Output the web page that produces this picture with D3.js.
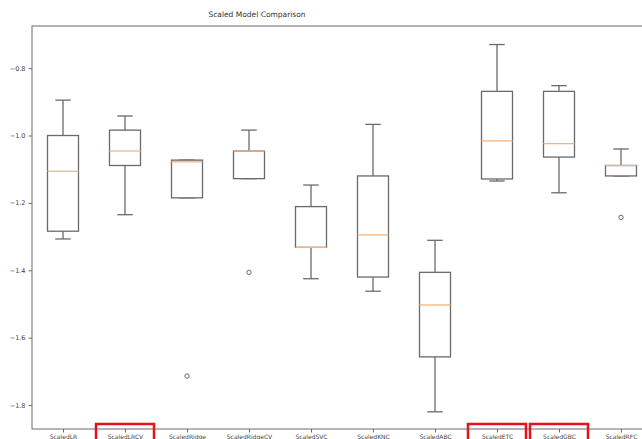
<!DOCTYPE html>
<html>
<head>
<meta charset="utf-8">
<script src="https://cdn.jsdelivr.net/npm/d3@7"></script>
<style>
  body { margin: 0; background: #fff; }
  svg { display: block; font-family: "DejaVu Sans", sans-serif; }
</style>
</head>
<body>
<div id="wrapper"></div>
<script>
// box stats (whisker low, q1, median, q3, whisker high)
const models = ["ScaledLR", "ScaledLRCV", "ScaledRidge", "ScaledRidgeCV", "ScaledSVC",
                "ScaledKNC", "ScaledABC", "ScaledETC", "ScaledGBC", "ScaledRFC"];
const whiskLow  = [-1.307, -1.235, -1.185, -1.128, -1.425, -1.462, -1.820, -1.135, -1.170, -1.120];
const q1        = [-1.284, -1.089, -1.185, -1.128, -1.332, -1.420, -1.657, -1.129, -1.064, -1.120];
const medians   = [-1.106, -1.046, -1.078, -1.046, -1.332, -1.295, -1.503, -1.016, -1.024, -1.089];
const q3        = [-1.000, -0.984, -1.073, -1.046, -1.211, -1.120, -1.406, -0.869, -0.869, -1.089];
const whiskHigh = [-0.895, -0.942, -1.073, -0.984, -1.147, -0.967, -1.311, -0.730, -0.852, -1.040];
const fliers    = [[], [], [-1.714], [-1.406], [], [], [], [], [], [-1.243]];
const yTicks = [-0.8, -1.0, -1.2, -1.4, -1.6, -1.8];
const highlighted = ["ScaledLRCV", "ScaledETC", "ScaledGBC"];

const width = 642, height = 439;
const axLeft = 32, axRight = 652, axTop = 26, axBottom = 429;

const svg = d3.select("#wrapper").append("svg")
  .attr("width", width).attr("height", height);

const x = d3.scaleLinear().domain([0.5, models.length + 0.5]).range([axLeft, axRight]);
const y = d3.scaleLinear().domain([-1.871, -0.675]).range([axBottom, axTop]);
const boxW = x(1.25) - x(1);   // half width of a box
const capW = x(1.125) - x(1);

const lineCol = "#6a6a6a";

// title
svg.append("text")
  .attr("x", 257).attr("y", 17)
  .attr("text-anchor", "middle")
  .attr("font-size", "7.5px")
  .attr("fill", "#333")
  .text("Scaled Model Comparison");

// y axis ticks
const yAxis = svg.append("g")
  .attr("transform", "translate(" + axLeft + ",0)")
  .call(d3.axisLeft(y).tickValues(yTicks).tickSize(3.5).tickPadding(3)
        .tickFormat(d => d3.format(".1f")(d).replace("-", "\u2212")));
yAxis.select(".domain").remove();
yAxis.selectAll("line").attr("stroke", lineCol);
yAxis.selectAll("text").attr("font-size", "6.5px").attr("fill", "#444")
  .attr("font-family", "DejaVu Sans, sans-serif");

// x axis ticks
const xAxis = svg.append("g")
  .attr("transform", "translate(0," + axBottom + ")")
  .call(d3.axisBottom(x).tickValues(d3.range(1, models.length + 1)).tickSize(3.5).tickPadding(2)
        .tickFormat(d => models[d - 1]));
xAxis.select(".domain").remove();
xAxis.selectAll("line").attr("stroke", lineCol);
xAxis.selectAll("text").attr("font-size", "6px").attr("fill", "#444")
  .attr("font-family", "DejaVu Sans, sans-serif");

// frame
svg.append("rect")
  .attr("x", axLeft).attr("y", axTop)
  .attr("width", axRight - axLeft).attr("height", axBottom - axTop)
  .attr("fill", "none").attr("stroke", lineCol).attr("stroke-width", 1);

// boxes
const boxes = svg.selectAll(".box")
  .data(models.map((m, i) => ({ name: m, pos: i + 1, lo: whiskLow[i], q1: q1[i],
                               med: medians[i], q3: q3[i], hi: whiskHigh[i], fl: fliers[i] })))
  .enter().append("g").attr("class", "box");

// whiskers
boxes.append("line")
  .attr("x1", d => x(d.pos)).attr("x2", d => x(d.pos))
  .attr("y1", d => y(d.q1)).attr("y2", d => y(d.lo))
  .attr("stroke", lineCol).attr("stroke-width", 1.3);
boxes.append("line")
  .attr("x1", d => x(d.pos)).attr("x2", d => x(d.pos))
  .attr("y1", d => y(d.q3)).attr("y2", d => y(d.hi))
  .attr("stroke", lineCol).attr("stroke-width", 1.3);
// caps
boxes.append("line")
  .attr("x1", d => x(d.pos) - capW).attr("x2", d => x(d.pos) + capW)
  .attr("y1", d => y(d.lo)).attr("y2", d => y(d.lo))
  .attr("stroke", lineCol).attr("stroke-width", 1.3);
boxes.append("line")
  .attr("x1", d => x(d.pos) - capW).attr("x2", d => x(d.pos) + capW)
  .attr("y1", d => y(d.hi)).attr("y2", d => y(d.hi))
  .attr("stroke", lineCol).attr("stroke-width", 1.3);
// box
boxes.append("rect")
  .attr("x", d => x(d.pos) - boxW)
  .attr("y", d => y(d.q3))
  .attr("width", boxW * 2)
  .attr("height", d => Math.max(0.5, y(d.q1) - y(d.q3)))
  .attr("fill", "#fff").attr("stroke", lineCol).attr("stroke-width", 1.3);
// median
boxes.append("line")
  .attr("x1", d => x(d.pos) - boxW).attr("x2", d => x(d.pos) + boxW)
  .attr("y1", d => y(d.med)).attr("y2", d => y(d.med))
  .attr("stroke", "#f7b27a").attr("stroke-width", 1.3);
// outliers
boxes.selectAll(".flier")
  .data(d => d.fl.map(v => ({ pos: d.pos, v: v })))
  .enter().append("circle")
  .attr("cx", d => x(d.pos)).attr("cy", d => y(d.v))
  .attr("r", 2.2)
  .attr("fill", "none").attr("stroke", lineCol).attr("stroke-width", 1);

// red highlight boxes around some labels
svg.selectAll(".mark")
  .data(highlighted)
  .enter().append("rect")
  .attr("x", d => x(models.indexOf(d) + 1) - 29)
  .attr("y", axBottom - 5)
  .attr("width", 58)
  .attr("height", 20)
  .attr("fill", "none")
  .attr("stroke", "#e3121b")
  .attr("stroke-width", 2.5);
</script>
</body>
</html>
